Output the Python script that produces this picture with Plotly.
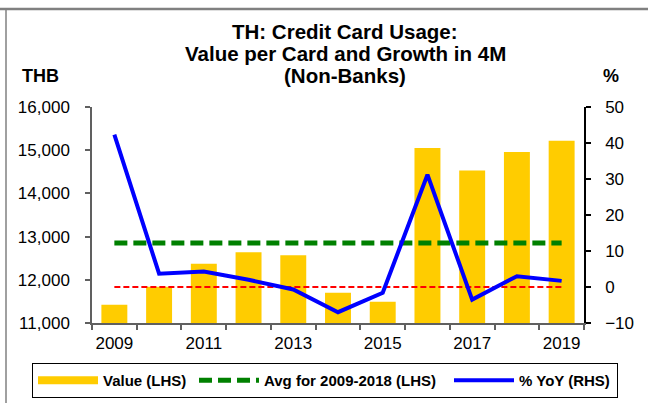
import plotly.graph_objects as go

years = [2009, 2010, 2011, 2012, 2013, 2014, 2015, 2016, 2017, 2018, 2019]
value_thb = [11420, 11840, 12370, 12640, 12570, 11700, 11490, 15050, 14530, 14960, 15220]
yoy_pct = [42.3, 3.7, 4.3, 2.0, -0.7, -7.0, -1.6, 31.2, -3.5, 3.0, 1.7]
avg_2009_2018 = 12850
avg_line = [avg_2009_2018] * len(years)
zero_line = [0] * len(years)
label_years = [2009, 2011, 2013, 2015, 2017, 2019]
left_ticks = [11000, 12000, 13000, 14000, 15000, 16000]
right_ticks = [-10, 0, 10, 20, 30, 40, 50]

FONT = "Arial, Liberation Sans, sans-serif"
YELLOW = "#FFCC00"
GREEN = "#008000"
BLUE = "#0000FF"
RED = "#FF0000"

fig = go.Figure()
fig.add_trace(go.Bar(x=years, y=value_thb, marker=dict(color=YELLOW, line=dict(width=0)),
                     width=0.58, showlegend=False, yaxis="y"))
# legend entry for the bars (wide swatch as in reference)
fig.add_trace(go.Scatter(x=[None], y=[None], mode="lines", name="Value (LHS)",
                         line=dict(color=YELLOW, width=8), legendwidth=86))
fig.add_trace(go.Scatter(x=years, y=avg_line, mode="lines", name="Avg for 2009-2018 (LHS)",
                         line=dict(color=GREEN, width=5, dash="13px,6px"), yaxis="y",
                         legendwidth=180))
fig.add_trace(go.Scatter(x=years, y=zero_line, mode="lines", showlegend=False,
                         line=dict(color=RED, width=2, dash="6px,3px"), yaxis="y2"))
fig.add_trace(go.Scatter(x=years, y=yoy_pct, mode="lines", name="% YoY (RHS)",
                         line=dict(color=BLUE, width=4), yaxis="y2", legendwidth=93))

L, R, T, B = 92, 64, 107, 80
W, H = 648, 403
pw, ph = W - L - R, H - T - B

def px_x(p):
    return (p - L) / pw

def px_y(p):
    return (H - B - p) / ph

fig.update_layout(
    width=W, height=H,
    margin=dict(l=L, r=R, t=T, b=B, pad=0, autoexpand=False),
    paper_bgcolor="white", plot_bgcolor="white",
    font=dict(family=FONT, size=17, color="black"),
    bargap=0.42,
    showlegend=True,
    legend=dict(orientation="h", x=px_x(32), xanchor="left", y=px_y(363), yanchor="top",
                bordercolor="black", borderwidth=1, bgcolor="white",
                font=dict(family=FONT, size=15, color="black", weight="bold"),
                itemwidth=60, traceorder="normal"),
    xaxis=dict(range=[2008.5, 2019.5], tickmode="array", tickvals=label_years,
               ticktext=[str(y) for y in label_years], ticks="", showgrid=False,
               zeroline=False, showline=True, linecolor="#606060", linewidth=1.5,
               ticklabelstandoff=4, automargin=False,
               minor=dict(tick0=2008.5, dtick=1, ticks="outside", ticklen=5,
                          tickcolor="#606060", tickwidth=1.5, showgrid=False)),
    yaxis=dict(range=[11000, 16000], tickmode="array", tickvals=left_ticks,
               tickformat=",", ticks="outside", ticklen=5, tickcolor="#606060", tickwidth=1.5,
               showline=True, linecolor="#606060", linewidth=1.5, showgrid=False,
               zeroline=False, ticklabelstandoff=12, automargin=False),
    yaxis2=dict(range=[-10, 50], tickmode="array", tickvals=right_ticks, overlaying="y",
                side="right", ticks="outside", ticklen=5, tickcolor="black", tickwidth=1.5,
                showline=True, linecolor="black", linewidth=1.5, showgrid=False,
                zeroline=False, ticklabelstandoff=11, automargin=False),
)

title_lines = ["TH: Credit Card Usage:", "Value per Card and Growth in 4M", "(Non-Banks)"]
title_y = [32, 54, 76]
for txt, yp in zip(title_lines, title_y):
    fig.add_annotation(text=txt, xref="paper", yref="paper", x=px_x(345), y=px_y(yp),
                       xanchor="center", yanchor="middle", showarrow=False,
                       font=dict(family=FONT, size=20.5, color="black", weight="bold"))

fig.add_annotation(text="THB", xref="paper", yref="paper", x=px_x(20), y=px_y(76),
                   xanchor="left", yanchor="middle", showarrow=False,
                   font=dict(family=FONT, size=18, color="black", weight="bold"))
fig.add_annotation(text="%", xref="paper", yref="paper", x=px_x(601), y=px_y(76),
                   xanchor="left", yanchor="middle", showarrow=False,
                   font=dict(family=FONT, size=18, color="black", weight="bold"))

# outer frame lines (top gray rule and left border)
fig.add_shape(type="line", xref="paper", yref="paper", x0=px_x(0), x1=px_x(648),
              y0=px_y(9), y1=px_y(9), line=dict(color="#808080", width=2.5))
fig.add_shape(type="line", xref="paper", yref="paper", x0=px_x(6), x1=px_x(6),
              y0=px_y(9), y1=px_y(403), line=dict(color="#808080", width=1.5))

fig.write_html("out.html", config={"displayModeBar": False},
               post_script="document.body.style.margin='0';")
